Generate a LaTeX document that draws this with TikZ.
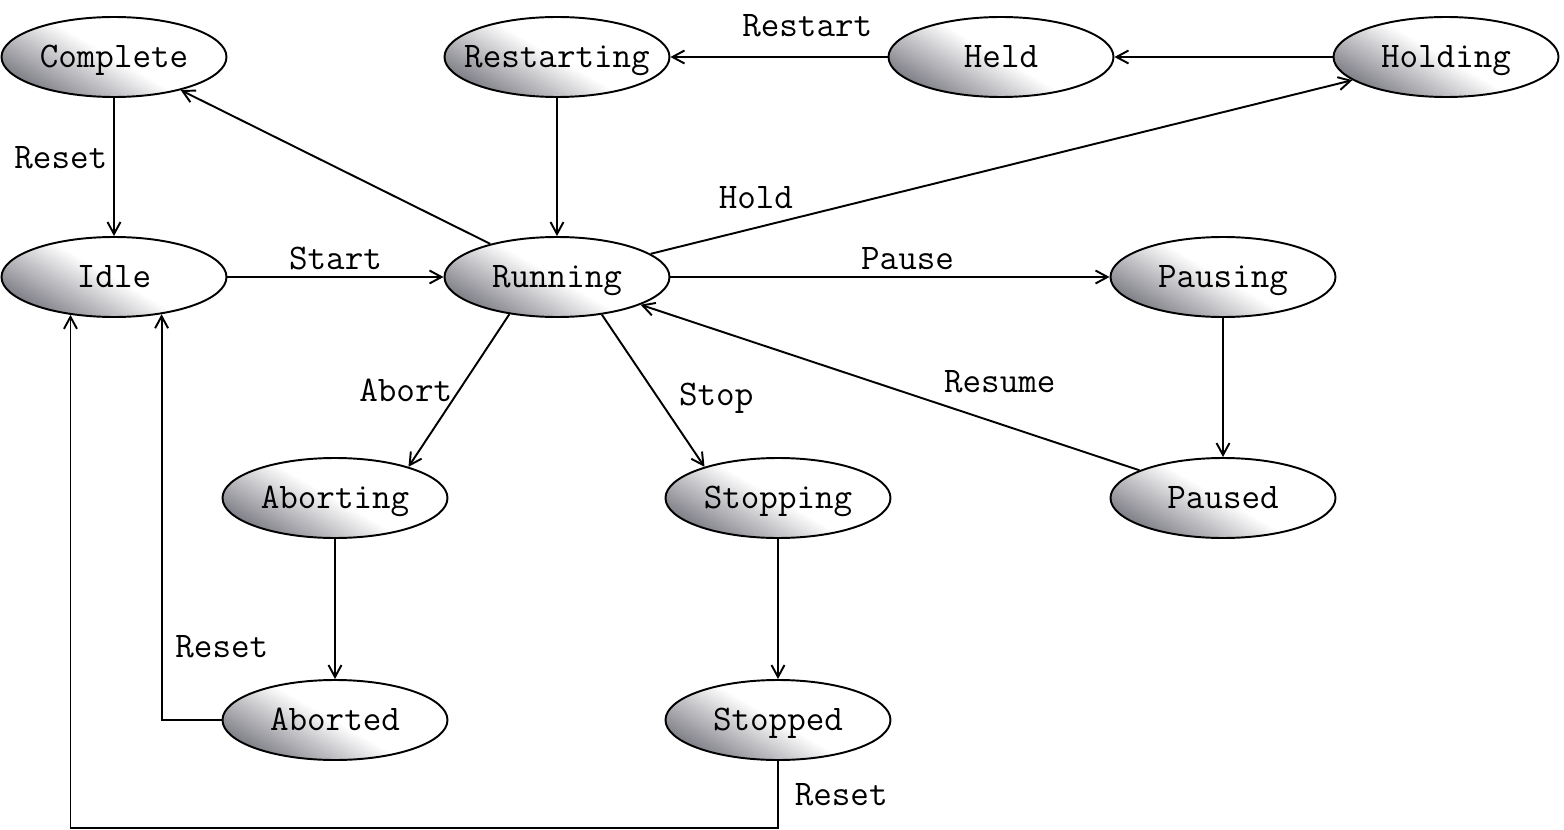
\documentclass[tikz,border=0pt]{standalone}
\usepackage{fontspec}
\usetikzlibrary{arrows.meta,positioning,shapes.geometric,calc}
\definecolor{stategray}{RGB}{128,128,136}

\begin{document}
\begin{tikzpicture}[
    font=\ttfamily\fontsize{20.5}{24}\selectfont,
    state/.style={draw, ellipse, line width=1.1pt, minimum width=4.5cm, minimum height=1.6cm, inner sep=0pt,
        text height=12.5pt, text depth=0pt,
        path picture={
            \shade[top color=white, bottom color=stategray, middle color=white,
                transform canvas={rotate around={-30:(path picture bounding box.center)}}]
                ($(path picture bounding box.center)+(-3,-1.31)$) rectangle ++(6,2.62);
        },
        execute at begin node={\hbox to 0pt\bgroup\hss}, execute at end node={\hss\egroup}},
    arrow/.style={-{Straight Barb[length=2.4mm, width=2.6mm]}, line width=1.1pt}
]
\useasboundingbox (0,0) rectangle (31.28,-16.6);

\node[state] (complete)   at (2.28,-1.14)   {Complete};
\node[state] (restarting) at (11.14,-1.14)  {Restarting};
\node[state] (held)       at (20.02,-1.14)  {Held};
\node[state] (holding)    at (28.92,-1.14)  {Holding};
\node[state] (idle)       at (2.28,-5.54)   {Idle};
\node[state] (running)    at (11.14,-5.54)  {Running};
\node[state] (pausing)    at (24.46,-5.54)  {Pausing};
\node[state] (aborting)   at (6.70,-9.96)   {Aborting};
\node[state] (stopping)   at (15.56,-9.96)  {Stopping};
\node[state] (paused)     at (24.46,-9.96)  {Paused};
\node[state] (aborted)    at (6.70,-14.40)  {Aborted};
\node[state] (stopped)    at (15.56,-14.40) {Stopped};

\draw[arrow] (complete) -- node[left, pos=0.43] {Reset} (idle);
\draw[arrow] (idle) -- node[above] {Start} (running);
\draw[arrow] (running) -- (complete);
\draw[arrow] (restarting) -- (running);
\draw[arrow] (held) -- node[above=0.26cm, pos=0.37] {Restart} (restarting);
\draw[arrow] (holding) -- (held);
\draw[arrow] (running) -- node[above=0.24cm, pos=0.15] {Hold} (holding);
\draw[arrow] (running) -- node[above, pos=0.54] {Pause} (pausing);
\draw[arrow] (pausing) -- (paused);
\draw[arrow] (paused) -- node[above=0.48cm, pos=0.28] {Resume} (running);
\draw[arrow] (running.218) -- node[left] {Abort} (aborting.23);
\draw[arrow] (running.320) -- node[right=0.28cm, pos=0.55] {Stop} (stopping.157);
\draw[arrow] (aborting) -- (aborted);
\draw[arrow] (stopping) -- (stopped);
\draw[arrow] (aborted.west) -| node[right=0.14cm, pos=0.59] {Reset} (idle.322);
\draw[arrow] (stopped.south) -- node[right=0.2cm] {Reset} ++(0,-1.34) -| (idle.221);
\end{tikzpicture}
\end{document}
